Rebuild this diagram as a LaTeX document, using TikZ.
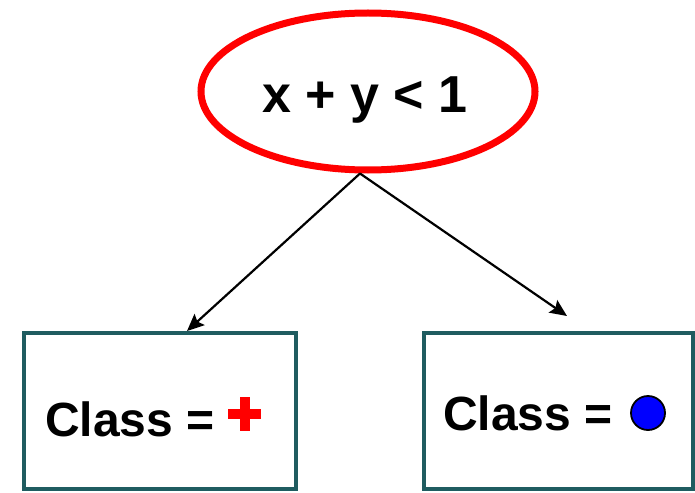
\documentclass[tikz,border=0pt]{standalone}
\usepackage{fontspec}
\setmainfont{Liberation Sans}
\usetikzlibrary{shapes.geometric,arrows.meta}
\definecolor{boxteal}{HTML}{1F5C60}
\tikzset{
  cond/.style={draw=red, line width=7pt, ellipse, minimum width=334pt, minimum height=157pt, inner sep=0pt},
  leaf/.style={draw=boxteal, line width=4.5pt, rectangle, inner sep=0pt},
  lbl/.style={font=\fontsize{48}{50}\selectfont\bfseries, inner sep=0pt, anchor=base west},
  edge/.style={line width=2.2pt, -{Stealth[length=17pt,width=15pt,inset=3pt]}}
}
\begin{document}
\begin{tikzpicture}[x=1pt,y=-1pt]
\useasboundingbox (0,0) rectangle (695,492);
\node[cond] (root) at (368,91.5) {};
\node[font=\fontsize{52}{54}\selectfont\bfseries, inner sep=0pt, anchor=base] (rtext) at (365,113) {x + y < 1};
\node[leaf, minimum width=272pt, minimum height=156pt] (lbox) at (160,411) {};
\node[leaf, minimum width=269pt, minimum height=156pt] (rbox) at (558.5,411) {};
\node[lbl] (ltext) at (45,436) {Class =};
\node[lbl] (rtext2) at (443,430) {Class =};
\fill[red] (228,409) rectangle (261,419);
\fill[red] (239.5,397) rectangle (249.5,431);
\node[circle, draw=black, line width=1.8pt, fill=blue, minimum size=34pt, inner sep=0pt] (dot) at (648,413) {};
\coordinate (apex) at ([xshift=-8pt]root.south);
\coordinate (lend) at (187,331);
\coordinate (rend) at (567,316);
\draw[edge] (apex) -- (lend);
\draw[edge] (apex) -- (rend);
\end{tikzpicture}
\end{document}
